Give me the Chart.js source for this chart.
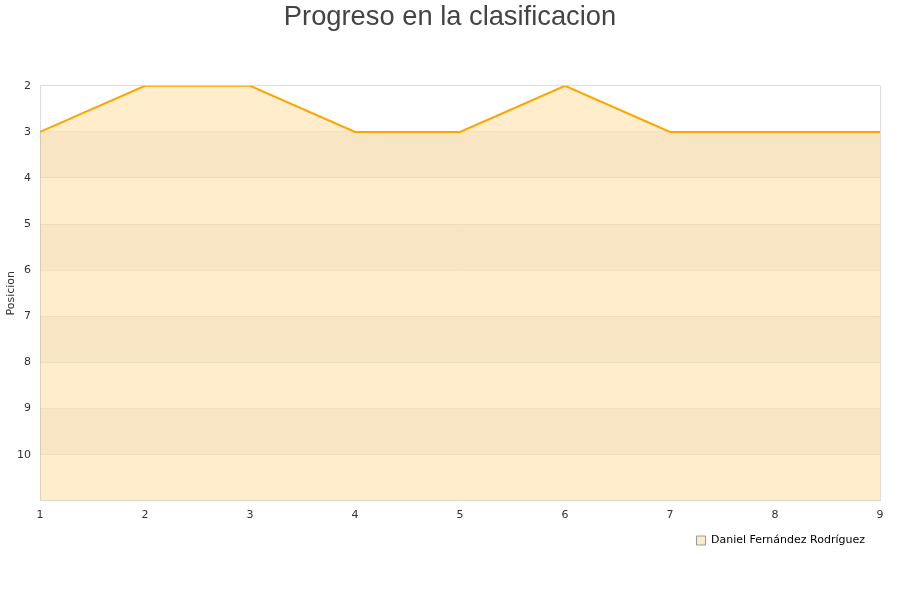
<!DOCTYPE html>
<html>
<head>
<meta charset="utf-8">
<script src="https://cdn.jsdelivr.net/npm/chart.js@4/dist/chart.umd.min.js"></script>
<style>
  body { margin: 0; background: #fff; }
</style>
</head>
<body>
<canvas id="chart" width="900" height="600"></canvas>
<script>
// datos
const jornadas = ["1", "2", "3", "4", "5", "6", "7", "8", "9"];
const posiciones = [3, 2, 2, 3, 3, 2, 3, 3, 3];
const jugador = "Daniel Fernández Rodríguez";
const bandas = [[3, 4], [5, 6], [7, 8], [9, 10]];

// franjas alternas del fondo
const bandPlugin = {
    id: "bands",
    afterLayout(chart) {
        // título centrado en todo el lienzo, leyenda algo a la izquierda
        chart.titleBlock.left = 0;
        chart.titleBlock.right = chart.width;
        chart.legend.right -= 10;
    },
    beforeDatasetsDraw(chart) {
        const { ctx, chartArea, scales } = chart;
        ctx.save();
        ctx.fillStyle = "rgba(0,0,0,0.04)";
        bandas.forEach(([a, b]) => {
            const y1 = scales.y.getPixelForValue(a);
            const y2 = scales.y.getPixelForValue(b);
            ctx.fillRect(chartArea.left, y1, chartArea.right - chartArea.left, y2 - y1);
        });
        ctx.restore();
    }
};

new Chart(document.getElementById("chart"), {
    type: "line",
    data: {
        labels: jornadas,
        datasets: [{
            label: jugador,
            data: posiciones,
            borderColor: "#FFA500",
            borderWidth: 2,
            backgroundColor: "rgba(255,165,0,0.2)",
            fill: { value: 11 },
            pointRadius: 0,
            tension: 0
        }]
    },
    options: {
        responsive: false,
        animation: false,
        layout: { padding: { left: 5, right: 20, top: 1, bottom: 44 } },
        plugins: {
            title: {
                display: true,
                text: "Progreso en la clasificacion",
                color: "#444",
                font: { family: "Liberation Sans", size: 27.3, weight: "normal" },
                padding: { top: 0, bottom: 52 }
            },
            legend: {
                position: "bottom",
                align: "end",
                labels: {
                    boxWidth: 9,
                    boxHeight: 9,
                    padding: 5,
                    color: "#222",
                    font: { family: "DejaVu Sans", size: 11 },
                    generateLabels(chart) {
                        return [{
                            text: jugador,
                            fillStyle: "#FFEBC8",
                            strokeStyle: "#999",
                            lineWidth: 1,
                            datasetIndex: 0
                        }];
                    }
                }
            },
            tooltip: { enabled: false }
        },
        scales: {
            x: {
                offset: false,
                grid: {
                    color: c => (c.index === 0 || c.index === jornadas.length - 1) ? "#ddd" : "rgba(0,0,0,0)",
                    drawTicks: false
                },
                border: { color: "#ddd" },
                ticks: {
                    color: "#333",
                    padding: 8,
                    maxRotation: 0,
                    font: { family: "DejaVu Sans", size: 11 }
                }
            },
            y: {
                reverse: true,
                min: 2,
                max: 11,
                afterFit(scale) { scale.width = 35; },
                grid: {
                    color: c => (c.tick.value === 2 || c.tick.value === 11) ? "#ddd" : "rgba(0,0,0,0.06)",
                    drawTicks: false
                },
                border: { color: "#ddd" },
                title: {
                    display: true,
                    text: "Posicion",
                    color: "#333",
                    padding: 0,
                    font: { family: "DejaVu Sans", size: 11 }
                },
                ticks: {
                    stepSize: 1,
                    color: "#333",
                    padding: 9,
                    font: { family: "DejaVu Sans", size: 11 },
                    callback: v => v === 11 ? "" : v
                }
            }
        }
    },
    plugins: [bandPlugin]
});
</script>
</body>
</html>
